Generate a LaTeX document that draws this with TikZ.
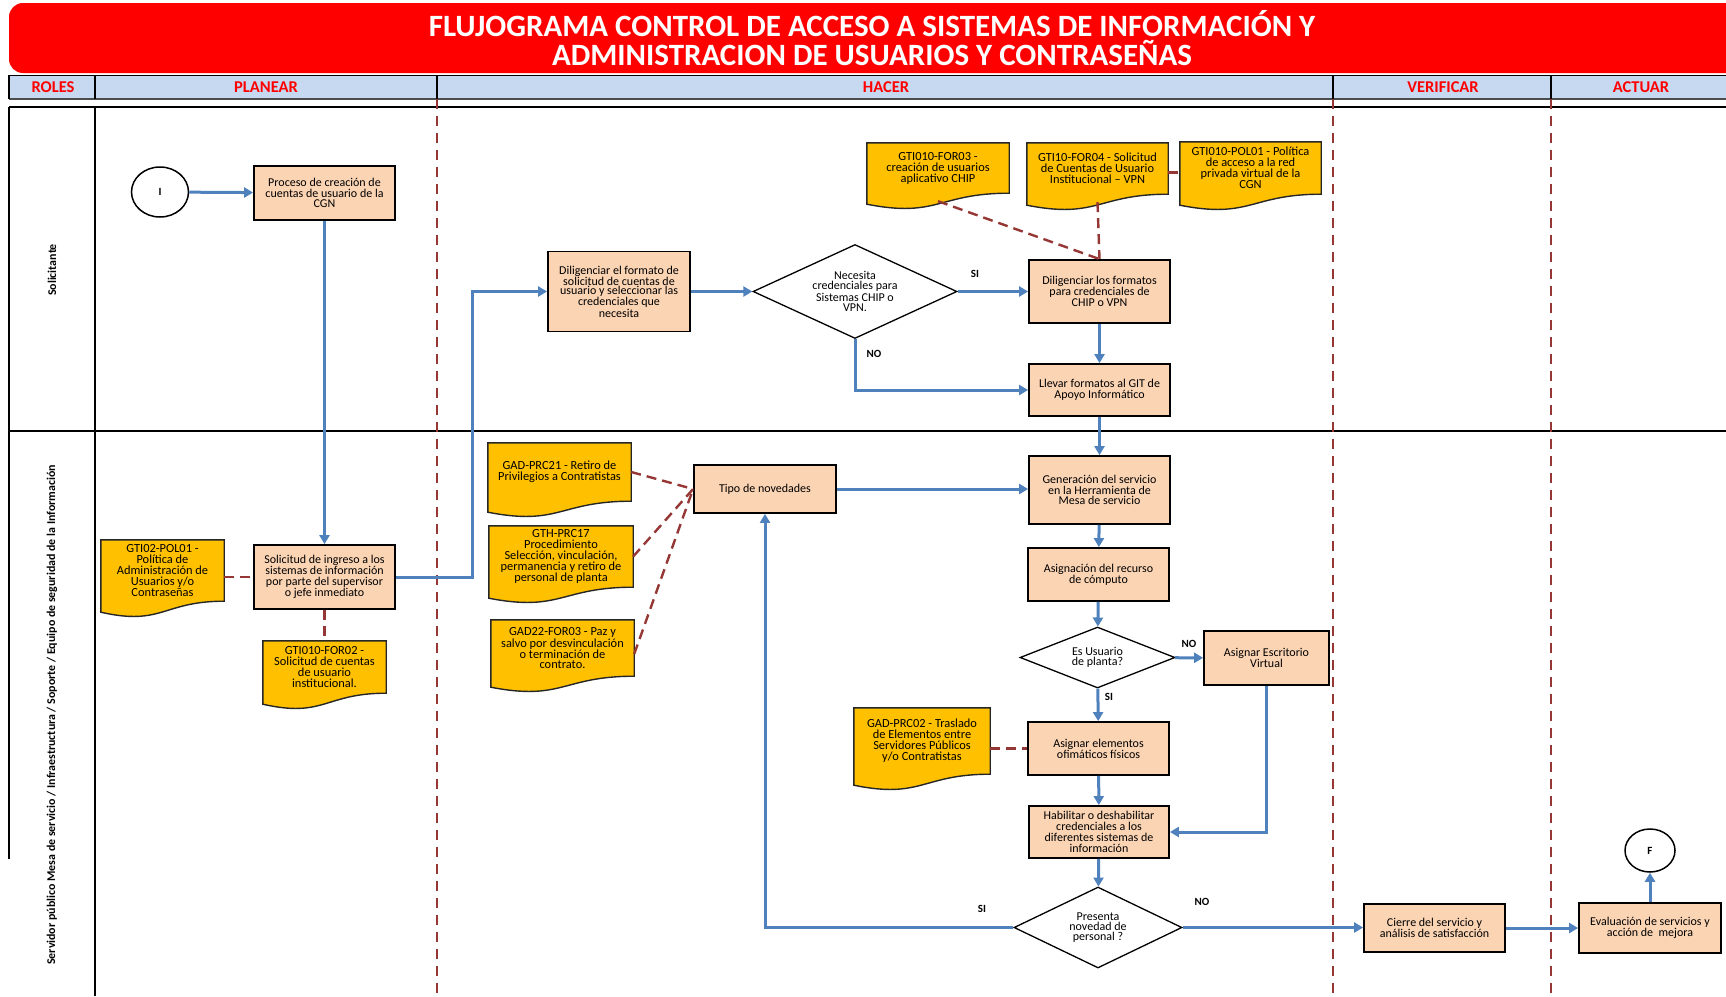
\documentclass[tikz,border=0pt]{standalone}
\usepackage{fontspec}
\setmainfont{Carlito}
\usetikzlibrary{shapes.geometric}
\usetikzlibrary{positioning}
\usetikzlibrary{arrows.meta}
\usetikzlibrary{calc}
\usetikzlibrary{backgrounds}

\definecolor{peach}{HTML}{FBD4B4}
\definecolor{docgold}{HTML}{FFC000}
\definecolor{flowblue}{HTML}{4F81BD}
\definecolor{linkred}{HTML}{953735}
\definecolor{headblue}{HTML}{C6D9F1}

\tikzset{
  proc/.style={draw=black, line width=1.8pt, fill=peach, align=center, inner sep=1pt,
    minimum width=141pt, font=\fontsize{12}{10.8}\selectfont},
  docbox/.style={align=center, inner sep=1pt, font=\fontsize{12.4}{11}\selectfont},
  docshape/.style={fill=docgold, draw=black!85, line width=1.4pt},
  decide/.style={diamond, aspect=2.2, draw=black, line width=1.3pt, fill=white, align=center,
    inner sep=0pt, font=\fontsize{12}{10}\selectfont},
  startend/.style={ellipse, draw=black, line width=1.5pt, fill=white, inner sep=0pt,
    font=\bfseries\fontsize{11}{11}\selectfont},
  flow/.style={draw=flowblue, line width=3pt, -{Triangle[length=9pt,width=10pt]}},
  link/.style={draw=linkred, line width=2.4pt, dash pattern=on 10pt off 6pt},
  phase/.style={draw=linkred, line width=2pt, dash pattern=on 10pt off 7pt},
  answer/.style={font=\bfseries\fontsize{11}{11}\selectfont, inner sep=0pt},
  titletext/.style={text=white, align=center, font=\bfseries\fontsize{31}{29}\selectfont},
  phasetext/.style={text=red, font=\bfseries\fontsize{16.5}{16.5}\selectfont, inner sep=0pt},
  lanetext/.style={rotate=90, font=\bfseries\fontsize{11.9}{11.9}\selectfont, inner sep=0pt}
}

\begin{document}
\begin{tikzpicture}[x=1pt,y=-1pt]
\useasboundingbox (0,0) rectangle (1726,996);

%titulo
\fill[red, rounded corners=14pt] (9,3) rectangle (1745,73);
\node[titletext] (titulo) at (872,38.5) {FLUJOGRAMA CONTROL DE ACCESO A SISTEMAS DE INFORMACIÓN Y\\ADMINISTRACION DE USUARIOS Y CONTRASEÑAS};

%encabezado - fases
\fill[headblue] (9,75) rectangle (1726,99);
\draw[line width=1pt] (9,75) -- (1726,75);
\draw[line width=2.2pt, black!70] (9,99) -- (1726,99);
\foreach \x in {9,95,437,1333,1551} \draw[line width=1.2pt] (\x,75) -- (\x,99);
\node[phasetext] (hroles) at (53,87)   {ROLES};
\node[phasetext] (hplan)  at (266,87)  {PLANEAR};
\node[phasetext] (hhacer) at (886,87)  {HACER};
\node[phasetext] (hverif) at (1443,87) {VERIFICAR};
\node[phasetext] (hactuar) at (1641,87) {ACTUAR};

%carriles
\draw[line width=2pt] (9,107) -- (1726,107);
\draw[line width=1.2pt] (9,431) -- (1726,431);
\draw[line width=1.2pt] (9,107) -- (9,859);
\draw[line width=1.2pt] (95,107) -- (95,996);
\node[lanetext] (lsolic) at (52,270) {Solicitante};
\node[lanetext] (lserv)  at (52,715) {Servidor público Mesa de servicio / Infraestructura / Soporte / Equipo de seguridad de la Información};

%fases - lineas punteadas
\foreach \x in {437,1333,1551} \draw[phase] (\x,99) -- (\x,996);

%solicitante - actividades
\node[startend, minimum width=57pt, minimum height=50pt] (ini) at (160,192) {I};
\node[proc, minimum height=54pt] (proceso) at (324.5,193) {Proceso de creación de\\cuentas de usuario de la\\CGN};
\node[proc, minimum width=142pt, minimum height=80pt, font=\fontsize{12}{9}\selectfont] (dilig) at (619,291.5) {Diligenciar el formato de\\solicitud de cuentas de\\usuario y seleccionar las\\credenciales que\\necesita};
\node[decide, minimum width=204pt, minimum height=94pt] (necesita) at (855,291.5) {Necesita\\credenciales para\\Sistemas CHIP o\\VPN.};
\node[proc, minimum height=63pt] (formatos) at (1099.5,291.5) {Diligenciar los formatos\\para credenciales de\\CHIP o VPN};
\node[proc, minimum height=52pt] (llevar) at (1099.5,390) {Llevar formatos al GIT de\\Apoyo Informático};
%solicitante - documentos
\node[docbox, minimum width=142pt, minimum height=50pt] (for03) at (938,168) {GTI010-FOR03 -\\creación de usuarios\\aplicativo CHIP};
\node[docbox, minimum width=141pt, minimum height=51pt] (for04) at (1097.5,168.5) {GTI10-FOR04 - Solicitud\\de Cuentas de Usuario\\Institucional – VPN};
\node[docbox, minimum width=141pt, minimum height=52pt] (pol01) at (1250.5,168) {GTI010-POL01 - Política\\de acceso a la red\\privada virtual de la\\CGN};

%servidor - actividades
\node[proc, minimum height=64pt] (solic) at (324.5,577) {Solicitud de ingreso a los\\sistemas de información\\por parte del supervisor\\o jefe inmediato};
\node[proc, minimum width=142pt, minimum height=48pt] (tipo) at (765,489) {Tipo de novedades};
\node[proc, minimum height=68pt] (gener) at (1099.5,490) {Generación del servicio\\en la Herramienta de\\Mesa de servicio};
\node[proc, minimum height=53pt] (asign) at (1098.5,574.5) {Asignación del recurso\\de cómputo};
\node[decide, minimum width=155pt, minimum height=61pt] (esusu) at (1097.5,657.5) {Es Usuario\\de planta?};
\node[proc, minimum width=125pt, minimum height=54pt] (escrit) at (1266.5,658) {Asignar Escritorio\\Virtual};
\node[proc, minimum height=53pt] (ofim) at (1098.5,748.5) {Asignar elementos\\ofimáticos físicos};
\node[proc, minimum width=140pt, minimum height=52pt] (habil) at (1099,832) {Habilitar o deshabilitar\\credenciales a los\\diferentes sistemas de\\información};
\node[decide, minimum width=168pt, minimum height=81pt] (presenta) at (1098,927.5) {Presenta\\novedad de\\personal ?};
\node[proc, minimum height=48pt] (cierre) at (1434.5,928) {Cierre del servicio y\\análisis de satisfacción};
\node[proc, minimum width=142pt, minimum height=50pt] (evalua) at (1650,928) {Evaluación de servicios y\\acción de~ mejora};
\node[startend, minimum width=50pt, minimum height=43pt] (fin) at (1650,850.5) {F};
%servidor - documentos
\node[docbox, minimum width=123pt, minimum height=61pt] (pol02) at (162.5,570.5) {GTI02-POL01 -\\Política de\\Administración de\\Usuarios y/o\\Contraseñas};
\node[docbox, minimum width=123pt, minimum height=52pt] (for02) at (324.5,667) {GTI010-FOR02 -\\Solicitud de cuentas\\de usuario\\institucional.};
\node[docbox, minimum width=143pt, minimum height=58pt] (prc21) at (559.5,472) {GAD-PRC21 - Retiro de\\Privilegios a Contratistas};
\node[docbox, minimum width=144pt, minimum height=61pt] (prc17) at (561,556.5) {GTH-PRC17\\Procedimiento\\Selección, vinculación,\\permanencia y retiro de\\personal de planta};
\node[docbox, minimum width=143pt, minimum height=56pt, font=\fontsize{12.4}{9.5}\selectfont] (gad22) at (562.5,648) {GAD22-FOR03 - Paz y\\salvo por desvinculación\\o terminación de\\contrato.};
\node[docbox, minimum width=136pt, minimum height=66pt] (prc02) at (922,741) {GAD-PRC02 - Traslado\\de Elementos entre\\Servidores Públicos\\y/o Contratistas};

%documentos - forma
\begin{scope}[on background layer]
\foreach \d in {for03,for04,pol01,pol02,for02,prc21,prc17,gad22,prc02}
  \filldraw[docshape] (\d.north west) -- (\d.north east) -- (\d.south east)
    .. controls (\d.south) and ($(\d.south)+(0,25)$) .. ($(\d.south west)+(0,11)$) -- cycle;
\end{scope}

%flujo
\draw[flow] (ini) -- (proceso);                           %I--proceso
\draw[flow] (proceso) -- (solic);                         %proceso--solicitud
\draw[flow] (solic.east) -- ++(77,0) |- (dilig.west);     %solicitud--diligenciar
\draw[flow] (dilig) -- (necesita);                        %diligenciar--necesita
\draw[flow] (necesita) -- (formatos);                     %necesita--formatos (SI)
\draw[flow] (formatos) -- (llevar);                       %formatos--llevar
\draw[flow] (necesita.south) |- (llevar.west);            %necesita--llevar (NO)
\draw[flow] (llevar) -- (gener);                          %llevar--generacion
\draw[flow] (tipo.east) -- (tipo.east -| gener.west);     %tipo--generacion
\draw[flow] (gener) -- (asign);                           %generacion--asignacion
\draw[flow] (asign) -- (esusu);                           %asignacion--es usuario
\draw[flow] (esusu) -- (escrit);                          %es usuario--escritorio (NO)
\draw[flow] (esusu) -- (ofim);                            %es usuario--ofimaticos (SI)
\draw[flow] (ofim) -- (habil);                            %ofimaticos--habilitar
\draw[flow] (escrit.south) |- (habil.east);               %escritorio--habilitar
\draw[flow] (habil) -- (presenta);                        %habilitar--presenta
\draw[flow] (presenta.west) -| (tipo.south);              %presenta--tipo (SI)
\draw[flow] (presenta.east) -- (presenta.east -| cierre.west); %presenta--cierre (NO)
\draw[flow] (cierre) -- (evalua);                         %cierre--evaluacion
\draw[flow] (evalua) -- (fin);                            %evaluacion--F

%respuestas
\node[answer] (si1) at (975,274)  {SI};
\node[answer] (no1) at (874,354)  {NO};
\node[answer] (no2) at (1189,644) {NO};
\node[answer] (si2) at (1109,697) {SI};
\node[answer] (si3) at (982,909)  {SI};
\node[answer] (no3) at (1202,902) {NO};

%documentos - enlaces
\draw[link] ($(for03.south)+(0,8)$) -- (formatos.north);  %for03--formatos
\draw[link] ($(for04.south)+(0,8)$) -- (formatos.north);  %for04--formatos
\draw[link] ($(for04.east)+(0,4)$) -- ($(for04.east -| pol01.west)+(0,4)$); %for04--pol01
\draw[link] (pol02.east |- solic.west) -- (solic.west);   %pol02--solicitud
\draw[link] (solic.south) -- (for02.north);               %solicitud--for02
\draw[link] (prc21.east) -- (tipo.west);                  %prc21--tipo
\draw[link] (prc17.east) -- (tipo.west);                  %prc17--tipo
\draw[link] ($(gad22.east)+(0,6)$) -- (tipo.west);        %gad22--tipo
\draw[link] (prc02.east |- ofim.west) -- (ofim.west);     %prc02--ofimaticos
\end{tikzpicture}
\end{document}
